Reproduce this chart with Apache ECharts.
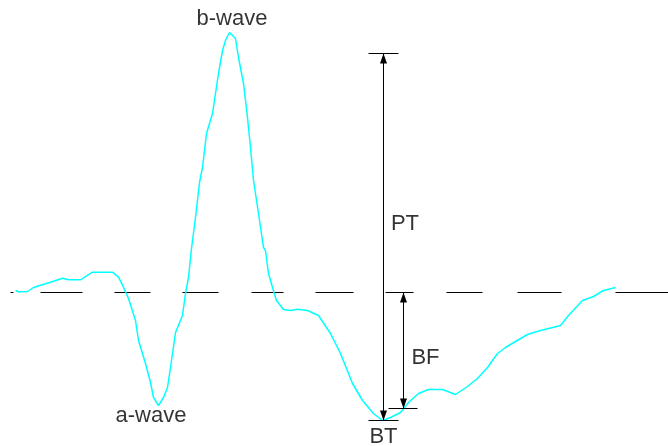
<!DOCTYPE html>
<html>
<head>
<meta charset="utf-8">
<script src="https://cdn.jsdelivr.net/npm/echarts@6/dist/echarts.min.js"></script>
<style>html,body{margin:0;padding:0;background:#fff}#c{width:668px;height:446px}</style>
</head>
<body>
<div id="c"></div>
<script>
// ERG trace: [time, amplitude] (amplitude relative to baseline)
const ergTime = [15,18,27,33,40,50,62,68,80,92,112,118,123,128,135,138,145,150,153,158,163,167,170,175,182,185,188,191,195,199,202,206,212,215,218,222,225,229,235,238,243,247,250,253,258,263,265,268,272,276,283,290,297,307,318,330,340,352,362,373,382,390,400,408,418,428,442,455,467,477,487,497,505,515,527,540,552,560,568,582,593,603,615];
const ergAmp  = [2,0.7,1,5,7.3,10.3,14.3,12.7,12.7,20.3,20.3,15.3,5.3,-6,-28,-48,-71,-90,-105,-113,-105,-95,-75,-40,-23,-1,15,44,75,110,125,159,179,199,219,242,252,260,254,235,209,175,145,112,79,45,42,19,5,-8,-17,-18,-16.7,-18,-23,-41,-61,-91,-108,-121,-128,-125,-120,-110,-101,-97,-97,-102,-94,-86,-75,-61,-55,-49,-42,-38,-35,-33,-23,-8,-4,2,5];
// dashed baseline segments [start, end]
const baselineDashes = [[10,13],[40,82],[114,150],[182,218],[251,283],[315,353],[385,413],[446,482],[517,561],[615,668]];
const baselineLevel = 0;
// measurement levels
const ptTop = 239;      // PT reference level
const btLevel = -128;   // trough (BT)
const bfLevel = -116;   // BF level
const ptX = 383;
const bfX = 403;
// labels
const labelNames = ['b-wave','a-wave','PT','BF','BT'];
const labelX = [231.5,150.5,404.5,425,383];
const labelY = [273.2,-123.6,68.5,-65.5,-144.5];

const curve = ergTime.map((t,i)=>[t, ergAmp[i]]);
const dashData = [];
baselineDashes.forEach(d=>{dashData.push([d[0],baselineLevel],[d[1],baselineLevel],null);});
const labels = labelNames.map((n,i)=>({name:n, value:[labelX[i], labelY[i]]}));

const chart = echarts.init(document.getElementById('c'));
const font = {fontFamily:'"Liberation Sans", Arial, sans-serif', fontSize:22, color:'#000'};
const arrowEnd = (x,y)=>({coord:[x,y],symbol:'triangle',symbolSize:[7,10],symbolOffset:[0,5]});
const plainEnd = (x,y)=>({coord:[x,y],symbol:'none'});
chart.setOption({
  animation:false,
  grid:{left:0,right:0,top:0,bottom:0},
  xAxis:{type:'value',min:-0.5,max:667.5,show:false},
  yAxis:{type:'value',min:-153.5,max:292.5,show:false},
  series:[
    {type:'line',data:dashData,showSymbol:false,connectNulls:false,silent:true,clip:false,
     lineStyle:{color:'#000',width:1}},
    {type:'line',data:curve,showSymbol:false,silent:true,
     lineStyle:{color:'#00ffff',width:1.5}},
    {type:'line',data:[],silent:true,
     markLine:{silent:true,animation:false,label:{show:false},
       symbol:['none','none'],
       lineStyle:{color:'#000',width:1,type:'solid'},
       data:[
         [plainEnd(368,ptTop),plainEnd(398,ptTop)],
         [plainEnd(368,btLevel),plainEnd(398,btLevel)],
         [plainEnd(388,bfLevel),plainEnd(417,bfLevel)],
         [arrowEnd(ptX,ptTop),arrowEnd(ptX,btLevel)],
         [arrowEnd(bfX,baselineLevel),arrowEnd(bfX,bfLevel)]
       ]}},
    {type:'scatter',data:labels,symbolSize:0,silent:true,
     label:Object.assign({show:true,position:'inside',formatter:p=>p.name,align:'center',verticalAlign:'middle'},font)}
  ]
});
</script>
</body>
</html>
